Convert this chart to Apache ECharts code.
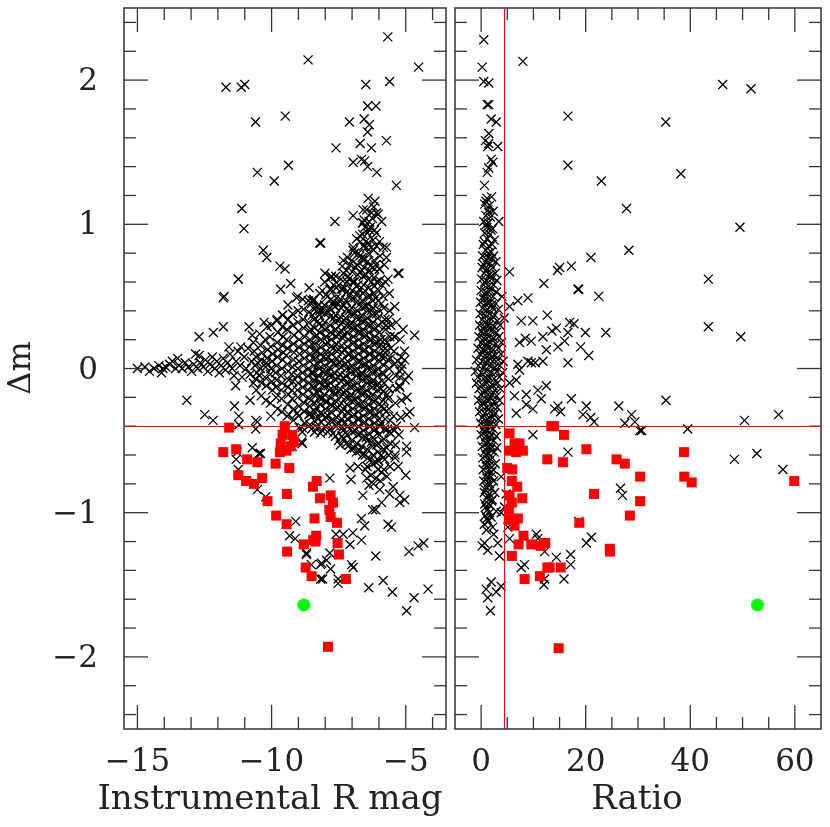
<!DOCTYPE html>
<html>
<head>
<meta charset="utf-8">
<script src="https://cdn.jsdelivr.net/npm/echarts@6/dist/echarts.min.js"></script>
<style>
html,body{margin:0;padding:0;background:#fff}
#chart{width:830px;height:827px}
</style>
</head>
<body>
<div id="chart"></div>
<script>
// tick labels
var magTicks = [-15, -10, -5];
var ratioTicks = [0, 20, 40, 60];
var dmTicks = [-2, -1, 0, 1, 2];
var magRange = [-15.5, -3.5];
var ratioRange = [-5, 65];
var dmRange = [-2.5, 2.5];
var dmCut = -0.4;
var ratioCut = 4.5;

// left panel: instrumental R mag vs delta m
var magCross = [
  [-5.67,2.30],[-8.64,2.14],[-4.52,2.09],[-5.60,1.99],[-6.49,1.97],[-11.70,1.95],[-11.13,1.95],[-11.00,1.97],[-6.42,1.82],[-6.11,1.82],
  [-10.60,1.71],[-9.49,1.75],[-7.10,1.71],[-6.55,1.73],[-6.36,1.69],[-6.42,1.64],[-6.70,1.56],[-6.28,1.53],[-7.60,1.53],[-5.72,1.58],
  [-9.37,1.41],[-6.96,1.43],[-6.65,1.45],[-6.53,1.44],[-6.42,1.40],[-6.08,1.36],[-10.53,1.36],[-9.90,1.30],[-5.35,1.27],
  [-6.40,1.18],[-6.15,1.16],[-6.46,1.10],[-6.96,1.06],[-6.09,1.08],[-5.90,1.02],[-6.55,1.03],[-7.64,1.02],[-6.71,0.92],[-8.20,0.87],
  [-5.72,0.84],[-11.11,1.11],[-11.03,0.97],[-10.31,0.82],[-10.18,0.77],[-9.69,0.71],[-9.50,0.69],[-9.29,0.59],[-11.24,0.62],[-11.80,0.49],
  [-5.25,0.66],[-7.33,0.75],[-8.17,0.87],
  [-6.59,1.10],[-6.03,1.07],[-6.59,1.01],[-6.34,0.96],[-6.09,0.94],[-6.96,0.82],[-6.46,0.84],[-5.84,0.84],[-6.59,0.75],[-5.72,0.77],
  [-8.01,0.66],[-7.77,0.64],[-7.15,0.64],[-5.29,0.66],[-5.97,0.69],[-7.77,0.55],[-7.33,0.55],[-6.84,0.57],[-5.66,0.62],[-8.45,0.47],
  [-8.20,0.40],[-7.71,0.44],[-5.41,0.43],[-5.10,0.27],[-4.67,0.23],[-5.43,0.22],[-5.16,0.00],[-5.66,0.34],[-5.84,0.15],[-5.78,0.11],
  [-15.00,0.00],[-14.72,0.01],[-14.55,-0.02],[-14.38,0.00],[-14.20,0.02],[-14.05,0.00],[-13.94,0.01],[-13.80,0.03],[-13.70,0.05],[-13.58,0.00],
  [-13.45,0.02],[-13.33,0.00],[-13.22,0.04],[-13.10,0.01],[-12.98,-0.02],[-12.90,0.03],[-12.83,0.10],[-12.75,0.00],[-12.66,0.04],[-12.55,0.01],
  [-12.46,0.06],[-12.38,-0.02],[-12.30,0.03],[-12.21,0.08],[-12.12,0.00],[-12.04,0.05],[-11.95,-0.03],[-11.88,0.02],[-11.80,0.07],[-11.72,-0.01],
  [-11.64,0.04],[-11.55,0.10],[-11.47,0.00],[-11.40,-0.05],[-11.32,0.05],[-11.25,0.12],[-11.18,0.02],[-11.10,-0.06],[-11.02,0.08],[-10.95,0.00],
  [-10.88,0.14],[-10.80,-0.04],[-10.74,0.05],[-10.68,-0.10],[-13.16,-0.22],[-12.49,-0.32],[-12.18,-0.36],[-12.70,0.22],[-12.17,0.25],[-11.80,0.29],
  [-11.77,0.50],[-11.24,0.62],[-12.70,0.09],[-11.59,0.15],[-11.34,-0.12],[-11.38,-0.26],[-11.15,0.15],[-10.84,0.29],[-10.72,0.23],[-10.28,0.32],
  [-9.79,0.34],[-9.60,0.37],[-9.66,0.55],[-9.07,0.49],[-8.49,0.47],[-8.30,0.40],[-10.80,-0.22],[-10.59,-0.36],[-10.59,-0.42],[-11.22,-0.33],
  [-10.47,-0.59],[-10.72,-0.55],[-8.86,-0.52],[-8.86,-0.44],[-8.61,-0.32],[-9.05,-0.31],[-9.35,-0.32],[-10.03,-0.33],[-11.28,-0.58],[-10.41,-0.59],
  [-11.32,-0.63],[-11.24,-0.70],[-10.53,-0.84],[-10.22,-0.89],[-9.10,-1.06],[-9.33,-1.16],[-9.12,-1.18],[-8.70,-1.29],[-8.17,-1.36],[-8.17,-1.46],
  [-8.52,-1.36],[-8.86,-0.41],[-9.23,-0.54],[-8.55,-0.31],[-10.53,-0.37],[-11.22,-0.39],[-13.50,0.07],[-14.10,-0.03],
  [-4.97,-0.54],[-4.97,-0.58],[-4.67,-0.41],[-5.22,-0.13],[-5.22,-0.06],[-5.00,-0.74],[-5.28,-0.68],[-5.40,-0.60],[-5.22,-0.93],[-5.04,-0.91],
  [-5.22,-0.88],[-5.47,-0.82],[-5.60,-0.87],[-5.66,-1.08],[-5.53,-1.10],[-6.12,-0.98],[-5.90,-0.93],[-4.88,-1.27],[-4.54,-1.23],[-4.33,-1.21],
  [-4.97,-1.68],[-4.69,-1.59],[-4.17,-1.53],[-5.50,-1.55],[-5.84,-1.47],[-6.38,-1.52],[-6.12,-1.30],[-7.08,-0.69],[-6.78,-0.68],[-7.04,-0.77],
  [-6.60,-0.88],[-6.23,-0.98],[-6.65,-1.04],[-6.53,-1.09],[-6.97,-1.14],[-7.33,-1.15],[-7.60,-1.15],[-6.65,-1.19],[-7.08,-1.22],[-7.83,-1.28],
  [-7.95,-1.33],[-8.14,-1.35],[-7.02,-1.36],[-6.96,-1.38],[-7.52,-1.46],[-7.52,-1.49],[-8.10,-1.46],[-7.80,-1.39],[-8.70,-1.28],[-6.37,-0.81],
  [-5.97,-0.84],[-7.83,-0.76],[-8.57,-0.31],[-7.89,-0.38],[-7.33,-0.43],[-8.88,-0.51],[-6.50,-0.70],[-6.30,-0.74],[-6.10,-0.76],[-5.90,-0.72],
  [-5.70,-0.75],[-6.20,-0.80],[-5.95,-0.78],[-6.45,-0.76],[-5.85,-0.62],[-5.55,-0.45],[-5.35,-0.40],[-4.85,-0.30],[-4.95,-0.20],[-4.90,-0.05],
  [-5.05,0.12],[-5.30,0.05],
  [-10.62,0.02],[-10.58,0.08],[-10.55,-0.03],[-10.65,0.12],[-10.60,-0.07],[-10.52,0.04],[-10.68,0.18],[-10.57,-0.15],
  [-10.42,0.00],[-10.38,0.06],[-10.45,-0.05],[-10.35,0.11],[-10.41,0.16],[-10.37,-0.10],[-10.44,0.24],[-10.39,-0.19],
  [-10.22,0.01],[-10.18,0.07],[-10.25,-0.06],[-10.15,0.13],[-10.20,-0.12],[-10.24,0.20],[-10.17,0.29],[-10.21,-0.22],[-10.19,0.04],
  [-10.02,0.00],[-9.98,0.05],[-10.05,-0.04],[-9.96,0.10],[-10.03,0.15],[-9.99,-0.09],[-10.06,0.22],[-9.97,-0.15],[-10.01,0.30],[-10.04,-0.24],
  [-9.82,0.02],[-9.78,0.08],[-9.85,-0.03],[-9.76,0.13],[-9.81,-0.08],[-9.79,0.18],[-9.84,-0.13],[-9.77,0.25],[-9.83,-0.20],[-9.80,0.33],[-9.78,-0.28],
  [-9.62,0.00],[-9.58,0.06],[-9.65,-0.05],[-9.56,0.11],[-9.61,-0.10],[-9.59,0.16],[-9.64,-0.15],[-9.57,0.22],[-9.63,-0.21],[-9.60,0.29],[-9.58,0.37],[-9.62,-0.30],
  [-9.42,0.03],[-9.38,-0.02],[-9.45,0.09],[-9.36,-0.08],[-9.41,0.14],[-9.39,-0.13],[-9.44,0.20],[-9.37,-0.18],[-9.43,0.27],[-9.40,-0.25],[-9.38,0.34],[-9.42,-0.33],[-9.39,0.44],
  [-9.22,0.01],[-9.18,0.06],[-9.25,-0.04],[-9.16,0.11],[-9.21,-0.09],[-9.19,0.17],[-9.24,-0.15],[-9.17,0.23],[-9.23,-0.21],[-9.20,0.30],[-9.18,-0.28],[-9.22,0.38],[-9.19,-0.36],
  [-9.02,0.00],[-8.98,0.05],[-9.05,-0.05],[-8.96,0.10],[-9.01,-0.10],[-8.99,0.15],[-9.04,-0.15],[-8.97,0.20],[-9.03,-0.20],[-9.00,0.26],[-8.98,-0.26],[-9.02,0.32],[-8.99,-0.33],[-9.01,0.40],[-8.97,-0.41],[-9.03,0.50],
  [-8.82,0.02],[-8.78,0.07],[-8.85,-0.03],[-8.76,0.12],[-8.81,-0.08],[-8.79,0.17],[-8.84,-0.13],[-8.77,0.22],[-8.83,-0.18],[-8.80,0.28],[-8.78,-0.24],[-8.82,0.34],[-8.79,-0.30],[-8.81,0.41],[-8.77,-0.38],[-8.84,0.48],
  [-8.62,0.00],[-8.58,0.05],[-8.65,-0.05],[-8.56,0.10],[-8.61,-0.10],[-8.59,0.15],[-8.64,-0.15],[-8.57,0.20],[-8.63,-0.20],[-8.60,0.26],[-8.58,-0.26],[-8.62,0.32],[-8.59,-0.32],[-8.61,0.39],[-8.57,-0.39],[-8.63,0.47],[-8.60,0.56],
  [-8.42,0.02],[-8.38,0.07],[-8.45,-0.03],[-8.36,0.12],[-8.41,-0.08],[-8.39,0.17],[-8.44,-0.13],[-8.37,0.22],[-8.43,-0.18],[-8.40,0.28],[-8.38,-0.24],[-8.42,0.34],[-8.39,-0.30],[-8.41,0.41],[-8.37,-0.37],[-8.43,0.48],[-8.40,-0.44],
  [-8.22,0.00],[-8.18,0.05],[-8.25,-0.05],[-8.16,0.10],[-8.21,-0.10],[-8.19,0.15],[-8.24,-0.15],[-8.17,0.20],[-8.23,-0.20],[-8.20,0.25],[-8.18,-0.25],[-8.22,0.31],[-8.19,-0.31],[-8.21,0.37],[-8.17,-0.37],[-8.23,0.44],[-8.20,0.52],[-8.18,-0.45],
  [-8.02,0.02],[-7.98,0.07],[-8.05,-0.03],[-7.96,0.12],[-8.01,-0.08],[-7.99,0.17],[-8.04,-0.13],[-7.97,0.22],[-8.03,-0.18],[-8.00,0.27],[-7.98,-0.23],[-8.02,0.32],[-7.99,-0.28],[-8.01,0.38],[-7.97,-0.34],[-8.03,0.44],[-8.00,-0.40],[-7.98,0.51],[-8.02,0.60],
  [-7.82,0.00],[-7.78,0.05],[-7.85,-0.05],[-7.76,0.10],[-7.81,-0.10],[-7.79,0.15],[-7.84,-0.15],[-7.77,0.20],[-7.83,-0.20],[-7.80,0.25],[-7.78,-0.25],[-7.82,0.30],[-7.79,-0.30],[-7.81,0.36],[-7.77,-0.36],[-7.83,0.42],[-7.80,-0.42],[-7.78,0.48],[-7.82,0.55],[-7.79,0.63],
  [-7.62,0.02],[-7.58,0.07],[-7.65,-0.03],[-7.56,0.12],[-7.61,-0.08],[-7.59,0.17],[-7.64,-0.13],[-7.57,0.22],[-7.63,-0.18],[-7.60,0.27],[-7.58,-0.23],[-7.62,0.32],[-7.59,-0.28],[-7.61,0.37],[-7.57,-0.34],[-7.63,0.43],[-7.60,-0.40],[-7.58,0.49],[-7.62,-0.47],[-7.59,0.56],[-7.61,0.64],
  [-7.42,0.01],[-7.37,0.06],[-7.44,-0.04],[-7.36,0.11],[-7.41,-0.09],[-7.39,0.16],[-7.45,-0.14],[-7.35,0.21],[-7.43,-0.19],[-7.38,0.26],[-7.40,-0.24],[-7.42,0.31],[-7.37,-0.30],[-7.44,0.36],[-7.39,-0.35],[-7.41,0.42],[-7.36,-0.41],[-7.43,0.48],[-7.38,-0.47],[-7.40,0.55],[-7.42,0.62],[-7.37,0.71],[-7.44,-0.53],
  [-7.21,0.00],[-7.17,0.05],[-7.24,-0.05],[-7.16,0.10],[-7.22,-0.10],[-7.18,0.15],[-7.25,-0.15],[-7.15,0.20],[-7.23,-0.20],[-7.19,0.25],[-7.20,-0.25],[-7.22,0.30],[-7.17,-0.30],[-7.24,0.35],[-7.18,-0.35],[-7.21,0.41],[-7.16,-0.40],[-7.23,0.47],[-7.19,-0.46],[-7.20,0.53],[-7.22,-0.52],[-7.18,0.60],[-7.21,0.68],[-7.17,0.77],
  [-7.02,0.02],[-6.97,0.07],[-7.04,-0.03],[-6.96,0.12],[-7.01,-0.08],[-6.99,0.17],[-7.05,-0.13],[-6.95,0.22],[-7.03,-0.18],[-6.98,0.27],[-7.00,-0.23],[-7.02,0.32],[-6.97,-0.28],[-7.04,0.37],[-6.99,-0.33],[-7.01,0.42],[-6.96,-0.38],[-7.03,0.48],[-6.98,-0.44],[-7.00,0.54],[-7.02,-0.50],[-6.97,0.60],[-7.04,-0.56],[-6.99,0.67],[-7.01,0.75],[-6.96,0.84],
  [-6.82,0.00],[-6.77,0.05],[-6.84,-0.05],[-6.76,0.10],[-6.81,-0.10],[-6.79,0.15],[-6.85,-0.15],[-6.75,0.20],[-6.83,-0.20],[-6.78,0.25],[-6.80,-0.25],[-6.82,0.30],[-6.77,-0.30],[-6.84,0.35],[-6.79,-0.35],[-6.81,0.40],[-6.76,-0.40],[-6.83,0.46],[-6.78,-0.46],[-6.80,0.52],[-6.82,-0.52],[-6.77,0.58],[-6.84,-0.58],[-6.79,0.65],[-6.81,0.72],[-6.76,0.80],[-6.83,0.90],
  [-6.62,0.02],[-6.57,0.07],[-6.64,-0.03],[-6.56,0.12],[-6.61,-0.08],[-6.59,0.17],[-6.65,-0.13],[-6.55,0.22],[-6.63,-0.18],[-6.58,0.27],[-6.60,-0.23],[-6.62,0.32],[-6.57,-0.28],[-6.64,0.37],[-6.59,-0.33],[-6.61,0.42],[-6.56,-0.38],[-6.63,0.47],[-6.58,-0.43],[-6.60,0.52],[-6.62,-0.48],[-6.57,0.58],[-6.64,-0.54],[-6.59,0.64],[-6.61,-0.60],[-6.56,0.70],[-6.63,0.77],[-6.58,0.85],[-6.60,0.93],[-6.62,1.01],
  [-6.42,0.00],[-6.37,0.05],[-6.44,-0.05],[-6.36,0.10],[-6.41,-0.10],[-6.39,0.15],[-6.45,-0.15],[-6.35,0.20],[-6.43,-0.20],[-6.38,0.25],[-6.40,-0.25],[-6.42,0.30],[-6.37,-0.30],[-6.44,0.35],[-6.39,-0.35],[-6.41,0.40],[-6.36,-0.40],[-6.43,0.45],[-6.38,-0.45],[-6.40,0.50],[-6.42,-0.50],[-6.37,0.56],[-6.44,-0.56],[-6.39,0.62],[-6.41,-0.62],[-6.36,0.68],[-6.43,0.74],[-6.38,0.80],[-6.40,0.87],[-6.42,0.94],[-6.37,1.02],[-6.44,-0.68],
  [-6.22,0.02],[-6.17,0.07],[-6.24,-0.03],[-6.16,0.12],[-6.21,-0.08],[-6.19,0.17],[-6.25,-0.13],[-6.15,0.22],[-6.23,-0.18],[-6.18,0.27],[-6.20,-0.23],[-6.22,0.32],[-6.17,-0.28],[-6.24,0.37],[-6.19,-0.33],[-6.21,0.42],[-6.16,-0.38],[-6.23,0.47],[-6.18,-0.43],[-6.20,0.52],[-6.22,-0.48],[-6.17,0.57],[-6.24,-0.54],[-6.19,0.63],[-6.21,-0.60],[-6.16,0.69],[-6.23,-0.66],[-6.18,0.75],[-6.20,0.82],[-6.22,0.89],[-6.17,0.96],[-6.24,1.04],[-6.19,1.12],
  [-6.02,0.00],[-5.97,0.05],[-6.04,-0.05],[-5.96,0.10],[-6.01,-0.10],[-5.99,0.15],[-6.05,-0.15],[-5.95,0.20],[-6.03,-0.20],[-5.98,0.25],[-6.00,-0.25],[-6.02,0.30],[-5.97,-0.30],[-6.04,0.35],[-5.99,-0.35],[-6.01,0.41],[-5.96,-0.40],[-6.03,0.47],[-5.98,-0.46],[-6.00,0.54],[-6.02,-0.52],[-5.97,0.61],[-6.04,-0.58],[-5.99,0.69],[-6.01,-0.64],[-5.96,0.78],[-6.03,-0.70],[-5.98,0.88],
  [-5.82,0.02],[-5.77,0.08],[-5.84,-0.04],[-5.76,0.14],[-5.81,-0.10],[-5.79,0.20],[-5.85,-0.16],[-5.75,0.27],[-5.83,-0.22],[-5.78,0.34],[-5.80,-0.28],[-5.82,0.42],[-5.77,-0.35],[-5.84,0.50],[-5.79,-0.42],[-5.81,-0.49],[-5.76,0.60],[-5.83,-0.56],[-5.78,-0.63],[-5.80,0.72],[-5.82,-0.70],
  [-5.62,0.00],[-5.57,0.07],[-5.64,-0.07],[-5.56,0.14],[-5.61,-0.14],[-5.59,0.22],[-5.65,-0.21],[-5.55,0.30],[-5.63,-0.28],[-5.58,-0.36],[-5.60,0.40],[-5.62,-0.44],[-5.57,-0.52],[-5.64,-0.60],[-5.59,-0.68],[-5.61,0.52],
  [-5.42,0.03],[-5.37,-0.05],[-5.44,0.12],[-5.36,-0.14],[-5.41,0.22],[-5.39,-0.24],[-5.45,-0.33],[-5.35,0.32],[-5.43,-0.43],[-5.38,-0.53],[-5.40,-0.62],
  [-5.22,-0.02],[-5.17,0.08],[-5.24,-0.12],[-5.16,-0.22],[-5.21,0.20],[-5.19,-0.34],[-5.25,-0.46],[-5.15,0.03],
  [-5.02,-0.08],[-4.97,-0.20],[-5.04,0.06],[-4.96,-0.32],
  [-8.51,-0.42],[-8.48,-0.33],[-8.53,-0.22],[-8.49,-0.12],[-8.52,-0.03],[-8.47,0.07],[-8.50,0.17],[-8.53,0.27],[-8.48,0.37],[-8.51,0.45],
  [-8.31,-0.41],[-8.28,-0.34],[-8.33,-0.27],[-8.29,-0.17],[-8.32,-0.07],[-8.27,0.03],[-8.30,0.12],[-8.33,0.23],[-8.28,0.33],[-8.31,0.43],
  [-8.11,-0.43],[-8.08,-0.32],[-8.13,-0.21],[-8.09,-0.11],[-8.12,-0.02],[-8.07,0.08],[-8.10,0.19],[-8.13,0.29],[-8.08,0.41],[-8.11,0.54],
  [-7.91,-0.44],[-7.88,-0.33],[-7.93,-0.23],[-7.89,-0.12],[-7.92,-0.03],[-7.87,0.08],[-7.90,0.18],[-7.93,0.28],[-7.88,0.39],[-7.91,0.50],
  [-7.71,-0.45],[-7.68,-0.36],[-7.73,-0.26],[-7.69,-0.16],[-7.72,-0.05],[-7.67,0.04],[-7.70,0.14],[-7.73,0.24],[-7.68,0.35],[-7.71,0.46],[-7.69,0.58],
  [-7.51,-0.50],[-7.48,-0.38],[-7.53,-0.27],[-7.49,-0.16],[-7.52,-0.06],[-7.47,0.04],[-7.50,0.13],[-7.53,0.24],[-7.48,0.34],[-7.51,0.45],[-7.49,0.58],
  [-7.31,-0.49],[-7.28,-0.38],[-7.33,-0.28],[-7.29,-0.17],[-7.32,-0.07],[-7.27,0.03],[-7.30,0.13],[-7.33,0.23],[-7.28,0.33],[-7.31,0.44],[-7.29,0.56],[-7.32,0.66],
  [-7.11,-0.53],[-7.08,-0.42],[-7.13,-0.31],[-7.09,-0.20],[-7.12,-0.10],[-7.07,0.00],[-7.10,0.10],[-7.13,0.20],[-7.08,0.30],[-7.11,0.40],[-7.09,0.51],[-7.12,0.62],[-7.08,0.72],
  [-6.91,-0.55],[-6.88,-0.43],[-6.93,-0.32],[-6.89,-0.22],[-6.92,-0.12],[-6.87,-0.02],[-6.90,0.08],[-6.93,0.18],[-6.88,0.28],[-6.91,0.38],[-6.89,0.49],[-6.92,0.60],[-6.88,0.70],[-6.91,0.80],
  [-6.71,-0.57],[-6.68,-0.45],[-6.73,-0.35],[-6.69,-0.25],[-6.72,-0.15],[-6.67,-0.05],[-6.70,0.05],[-6.73,0.15],[-6.68,0.25],[-6.71,0.35],[-6.69,0.45],[-6.72,0.55],[-6.68,0.67],[-6.71,0.78],[-6.69,0.88],
  [-6.51,-0.60],[-6.48,-0.48],[-6.53,-0.37],[-6.49,-0.27],[-6.52,-0.17],[-6.47,-0.07],[-6.50,0.03],[-6.53,0.13],[-6.48,0.23],[-6.51,0.33],[-6.49,0.43],[-6.52,0.54],[-6.48,0.65],[-6.51,0.76],[-6.49,0.88],[-6.52,0.98],
  [-6.31,-0.63],[-6.28,-0.51],[-6.33,-0.40],[-6.29,-0.30],[-6.32,-0.20],[-6.27,-0.10],[-6.30,0.00],[-6.33,0.10],[-6.28,0.20],[-6.31,0.30],[-6.29,0.40],[-6.32,0.50],[-6.28,0.60],[-6.31,0.71],[-6.29,0.84],[-6.32,0.98],[-6.28,1.08],
  [-6.11,-0.65],[-6.08,-0.53],[-6.13,-0.42],[-6.09,-0.32],[-6.12,-0.22],[-6.07,-0.12],[-6.10,-0.02],[-6.13,0.08],[-6.08,0.18],[-6.11,0.28],[-6.09,0.38],[-6.12,0.49],[-6.08,0.60],[-6.11,0.72],[-6.09,0.85],
  [-5.91,-0.60],[-5.88,-0.50],[-5.93,-0.38],[-5.89,-0.26],[-5.92,-0.14],[-5.87,-0.03],[-5.90,0.08],[-5.93,0.20],[-5.88,0.32],[-5.91,0.45],[-5.89,0.58],
  [-5.71,-0.55],[-5.68,-0.42],[-5.73,-0.30],[-5.69,-0.18],[-5.72,-0.06],[-5.67,0.06],[-5.70,0.18],[-5.73,0.30]
];
var magRed = [
  [-11.58,-0.41],[-11.80,-0.58],[-11.32,-0.56],[-10.91,-0.63],[-10.53,-0.65],[-9.85,-0.66],[-9.34,-0.69],[-11.24,-0.74],[-10.95,-0.78],[-10.66,-0.80],
  [-10.35,-0.76],[-10.15,-0.92],[-9.43,-0.87],[-9.83,-1.02],[-9.44,-1.08],[-9.42,-1.27],[-8.73,-1.38],[-8.51,-1.44],[-8.80,-1.22],[-8.36,-1.20],
  [-8.34,-1.16],[-8.40,-1.04],[-8.20,-0.90],[-8.46,-0.82],[-8.32,-0.78],[-9.51,-0.40],[-9.59,-0.46],[-9.66,-0.52],[-9.69,-0.58],[-9.45,-0.57],
  [-9.23,-0.46],[-9.17,-0.51],[-9.29,-0.54],[-7.80,-0.88],[-7.71,-0.93],[-7.85,-0.98],[-7.80,-1.03],[-7.56,-1.07],[-8.45,-1.19],[-7.54,-1.21],
  [-7.49,-1.29],[-7.23,-1.46],[-7.90,-1.93]
];
var magGreen = [[-8.80,-1.64]];

// right panel: ratio vs delta m
var ratioCross = [
  [1.1,1.18],[2.0,1.19],[0.7,1.14],[1.6,1.13],[1.3,1.10],[2.3,1.09],[0.9,1.06],[1.8,1.05],[0.5,1.02],[1.4,1.01],[3.37,1.02],[1.1,0.98],[2.2,0.97],
  [0.7,0.94],[1.7,0.93],[1.2,0.90],[2.5,0.89],[0.4,0.86],[1.5,0.85],[2.1,0.86],[0.9,0.82],[1.9,0.81],[0.3,0.78],[1.3,0.77],[2.4,0.78],
  [0.8,0.74],[1.7,0.73],[2.8,0.74],[0.2,0.70],[1.2,0.69],[2.2,0.70],[0.6,0.66],[1.6,0.65],[2.7,0.66],[5.43,0.67],[0.1,0.62],[1.0,0.61],[2.0,0.62],[3.0,0.61],
  [0.5,0.58],[1.4,0.57],[2.4,0.58],[0.0,0.54],[0.9,0.53],[1.8,0.54],[2.9,0.53],[0.4,0.50],[1.3,0.49],[2.3,0.50],[4.0,0.50],
  [-0.1,0.46],[0.8,0.45],[1.7,0.46],[2.8,0.45],[0.3,0.42],[1.2,0.41],[2.2,0.42],[3.3,0.41],[-0.2,0.38],[0.7,0.37],[1.6,0.38],[2.6,0.37],
  [0.2,0.34],[1.1,0.33],[2.0,0.34],[3.1,0.33],[4.4,0.35],[-0.3,0.30],[0.6,0.29],[1.5,0.30],[2.5,0.29],[3.6,0.30],[0.1,0.26],[1.0,0.25],[1.9,0.26],[2.9,0.25],
  [-0.4,0.22],[0.5,0.21],[1.4,0.22],[2.4,0.21],[3.4,0.22],[0.0,0.18],[0.9,0.17],[1.8,0.18],[2.8,0.17],[3.9,0.18],
  [-0.6,0.14],[0.4,0.13],[1.3,0.14],[2.3,0.13],[3.3,0.14],[-0.2,0.10],[0.8,0.09],[1.7,0.10],[2.7,0.09],[3.8,0.10],
  [-0.9,0.06],[0.2,0.05],[1.2,0.06],[2.2,0.05],[3.2,0.06],[4.2,0.05],[-0.5,0.02],[0.6,0.01],[1.6,0.02],[2.6,0.01],[3.6,0.02],
  [-1.1,-0.02],[0.0,-0.03],[1.0,-0.02],[2.0,-0.03],[3.0,-0.02],[4.1,-0.03],[-0.6,-0.06],[0.5,-0.07],[1.5,-0.06],[2.5,-0.07],[3.5,-0.06],
  [-0.9,-0.10],[0.1,-0.11],[1.1,-0.10],[2.1,-0.11],[3.1,-0.10],[-0.4,-0.14],[0.6,-0.15],[1.6,-0.14],[2.6,-0.15],[3.7,-0.14],
  [0.0,-0.18],[1.0,-0.19],[2.0,-0.18],[3.0,-0.19],[-0.5,-0.22],[0.5,-0.23],[1.5,-0.22],[2.5,-0.23],[3.5,-0.22],
  [0.1,-0.26],[1.1,-0.27],[2.1,-0.26],[3.1,-0.27],[-0.3,-0.30],[0.7,-0.31],[1.7,-0.30],[2.7,-0.31],[0.2,-0.34],[1.2,-0.35],[2.2,-0.34],[3.3,-0.35],
  [-0.1,-0.38],[0.8,-0.39],[1.8,-0.38],[2.8,-0.39],[0.4,-0.42],[1.3,-0.43],[2.3,-0.42],[0.0,-0.46],[0.9,-0.47],[1.9,-0.46],[2.9,-0.47],
  [0.5,-0.50],[1.4,-0.51],[2.4,-0.50],[0.2,-0.54],[1.1,-0.55],[2.0,-0.54],[3.0,-0.55],[0.6,-0.58],[1.5,-0.59],[2.5,-0.58],
  [0.3,-0.62],[1.2,-0.63],[2.1,-0.62],[0.8,-0.66],[1.7,-0.67],[2.7,-0.66],[0.4,-0.70],[1.3,-0.71],[2.3,-0.70],[0.9,-0.74],[1.9,-0.75],[3.83,-0.75],
  [0.5,-0.78],[1.4,-0.79],[2.4,-0.78],[1.0,-0.82],[2.0,-0.83],[0.6,-0.86],[1.6,-0.87],[2.6,-0.86],[4.79,-0.87],[1.1,-0.90],[2.1,-0.91],
  [0.7,-0.94],[1.7,-0.95],[4.47,-0.96],[1.2,-0.98],[2.88,-0.99],[0.8,-1.02],[1.9,-1.03],[3.83,-1.00],[1.4,-1.06],[2.22,-1.10],[5.10,-1.10],
  [0.9,1.16],[1.5,1.08],[1.0,1.00],[1.9,0.96],[0.6,0.88],[1.4,0.80],[2.0,0.76],[0.5,0.72],[1.0,0.68],[1.9,0.64],[0.7,0.60],[1.8,0.56],
  [1.1,0.52],[0.5,0.48],[2.0,0.44],[1.0,0.40],[2.3,0.36],[0.8,0.32],[1.7,0.28],[0.3,0.24],[2.1,0.20],[1.1,0.16],[0.6,0.12],[2.0,0.08],
  [1.0,0.04],[2.4,0.00],[0.3,-0.04],[1.3,-0.08],[2.3,-0.12],[0.8,-0.16],[1.8,-0.20],[0.3,-0.24],[1.4,-0.28],[2.4,-0.32],[0.9,-0.36],
  [1.6,-0.40],[0.6,-0.44],[1.6,-0.48],[0.9,-0.52],[1.8,-0.56],[0.9,-0.60],[1.6,-0.64],[1.0,-0.68],[2.0,-0.72],[1.1,-0.76],[1.6,-0.80],
  [0.8,-0.84],[1.3,-0.88],[2.0,-0.92],[0.9,-0.96],[1.6,-1.00],[1.1,-1.04],[0.6,-1.08],
  [0.63,-1.21],[1.27,-1.26],[0.96,-1.53],[1.92,-1.48],[2.88,-1.55],[1.27,-1.59],[1.78,-1.68],[3.83,-1.51],[3.51,-1.30],[0.2,-1.23],[2.4,-1.15],[1.0,-1.12],
  [0.5,2.28],[0.19,2.09],[7.98,2.13],[0.5,1.99],[1.46,1.98],[1.15,1.83],[1.46,1.83],[1.92,1.73],[2.88,1.71],[1.46,1.63],[0.82,1.58],[1.46,1.56],
  [1.27,1.54],[3.18,1.54],[1.92,1.45],[2.22,1.43],[1.46,1.39],[1.15,1.36],[0.63,1.27],[16.6,1.75],[16.6,1.41],[23.0,1.30],[27.8,1.11],[28.25,0.82],
  [21.0,0.77],[17.26,0.71],[15.0,0.70],[14.6,0.68],[18.5,0.55],[46.2,1.97],[51.6,1.94],[35.3,1.71],[38.2,1.35],[49.5,0.98],[43.45,0.62],
  [43.45,0.29],[49.66,0.22],[35.34,-0.22],[50.36,-0.36],[56.88,-0.32],[39.5,-0.42],[30.7,-0.43],[48.44,-0.63],[52.73,-0.59],[57.72,-0.70],
  [12.0,0.59],[18.66,0.55],[22.5,0.50],[8.94,0.49],[7.02,0.47],[5.43,0.43],[12.66,0.37],[9.9,0.33],[7.67,0.33],[16.93,0.32],[17.76,0.31],
  [14.38,0.28],[13.54,0.26],[16.6,0.25],[19.94,0.25],[23.84,0.25],[11.81,0.22],[9.59,0.19],[8.44,0.21],[7.34,0.18],[15.97,0.19],[12.46,0.13],
  [14.69,0.15],[19.04,0.15],[20.58,0.09],[16.6,0.04],[8.94,0.05],[9.59,0.04],[10.35,0.04],[11.81,0.05],[7.02,0.03],[7.34,-0.01],[6.71,-0.08],
  [5.43,-0.10],[12.46,-0.12],[10.85,-0.15],[8.63,-0.18],[6.39,-0.19],[11.5,-0.21],[17.26,-0.21],[8.63,-0.25],[9.9,-0.28],[14.06,-0.28],
  [14.69,-0.26],[15.2,-0.30],[20.13,-0.26],[19.48,-0.32],[20.96,-0.34],[21.6,-0.37],[26.33,-0.26],[28.76,-0.32],[29.4,-0.37],[30.36,-0.43],
  [27.48,-0.38],[9.9,-0.46],[16.6,-0.58],[6.71,-0.31],[26.65,-0.83],[27.04,-0.88],[18.66,-1.06],[21.09,-1.17],[20.13,-1.21],[10.55,-1.15],
  [10.85,-1.18],[12.14,-1.27],[14.38,-1.31],[17.12,-1.29],[17.12,-1.36],[15.84,-1.46],[12.14,-1.46],[12.0,-1.50],[8.3,-1.36],[7.67,-1.38],
  [5.43,-1.18],[3.18,-1.21]
];
var ratioRed = [
  [13.42,-0.40],[13.92,-0.40],[15.84,-0.46],[20.13,-0.56],[12.66,-0.63],[15.65,-0.65],[25.89,-0.63],[27.48,-0.66],[30.41,-0.75],[30.41,-0.92],
  [28.44,-1.02],[21.59,-0.87],[18.79,-1.07],[24.66,-1.27],[24.60,-1.25],[5.43,-0.45],[6.39,-0.52],[7.34,-0.52],[5.43,-0.57],[6.71,-0.58],
  [7.98,-0.57],[4.99,-0.69],[5.94,-0.70],[5.87,-0.78],[6.90,-0.82],[7.86,-0.90],[5.43,-0.88],[5.87,-0.93],[5.29,-0.98],[5.29,-1.05],
  [7.02,-1.04],[6.39,-1.09],[8.11,-1.16],[7.15,-1.22],[9.59,-1.22],[11.37,-1.23],[12.27,-1.21],[5.87,-1.30],[12.66,-1.38],[13.10,-1.38],
  [15.21,-1.38],[11.24,-1.44],[8.30,-1.46],[14.82,-1.94],[38.79,-0.58],[38.85,-0.75],[40.27,-0.79],[59.88,-0.78]
];
var ratioGreen = [[52.85,-1.64]];

var FONT = '"DejaVu Serif", "Liberation Serif", serif';
var INK = '#333';

function fmt(v) { return v < 0 ? '\u2212' + (-v) : String(v); }

// frame ticks (inside, on all four sides) drawn through the axis scale
function tickSeries(gi, dir, majors, step, from, to, labels) {
  var data = [];
  var n = Math.round((to - from) / step);
  for (var i = 0; i <= n; i++) {
    var v = +(from + i * step).toFixed(3);
    var m = majors.indexOf(v) >= 0 ? 1 : 0;
    data.push(dir === 'x' ? [v, 0, m] : [0, v, m]);
  }
  return {
    type: 'custom', xAxisIndex: gi, yAxisIndex: gi, clip: false, silent: true, z: 5,
    data: data,
    renderItem: function (params, api) {
      var cs = params.coordSys;
      var major = api.value(2) === 1;
      var len = major ? 24 : 12;
      var st = { stroke: INK, lineWidth: 1.3 };
      var kids = [];
      if (dir === 'x') {
        var v = api.value(0);
        var x = api.coord([v, 0])[0];
        kids.push({ type: 'line', shape: { x1: x, y1: cs.y, x2: x, y2: cs.y + len }, style: st });
        kids.push({ type: 'line', shape: { x1: x, y1: cs.y + cs.height, x2: x, y2: cs.y + cs.height - len }, style: st });
        if (major && labels) kids.push({ type: 'text', style: { text: fmt(v), x: x, y: cs.y + cs.height + 34, align: 'center', verticalAlign: 'middle', font: '31px ' + FONT, fill: '#222' } });
      } else {
        var w = api.value(1);
        var y = api.coord([0, w])[1];
        kids.push({ type: 'line', shape: { x1: cs.x, y1: y, x2: cs.x + len, y2: y }, style: st });
        kids.push({ type: 'line', shape: { x1: cs.x + cs.width, y1: y, x2: cs.x + cs.width - len, y2: y }, style: st });
        if (major && labels) kids.push({ type: 'text', style: { text: fmt(w), x: cs.x - 26, y: y + 2, align: 'right', verticalAlign: 'middle', font: '31px ' + FONT, fill: '#222' } });
      }
      return { type: 'group', children: kids };
    }
  };
}

function hiddenAxis(gi, range) {
  return { type: 'value', gridIndex: gi, min: range[0], max: range[1], axisLine: { show: false }, axisTick: { show: false }, axisLabel: { show: false }, splitLine: { show: false } };
}

// red cut lines, kept above the frame ticks
function redLine(pairs) {
  return { silent: true, symbol: 'none', z: 20, label: { show: false }, emphasis: { disabled: true },
    lineStyle: { color: '#ff0000', width: 1, type: 'solid', opacity: 1 },
    data: pairs.map(function (p) { return [{ coord: p[0] }, { coord: p[1] }]; }) };
}

var cross = 'path://M0,0L10,10M10,0L0,10';
var crossStyle = { color: 'none', borderColor: '#000', borderWidth: 1.3, opacity: 1 };

var chart = echarts.init(document.getElementById('chart'), null, { renderer: 'canvas' });
chart.setOption({
  animation: false,
  backgroundColor: '#fff',
  grid: [
    { left: 124, top: 8, width: 322, height: 721, show: true, borderColor: INK, borderWidth: 1.5, backgroundColor: 'transparent' },
    { left: 455, top: 8, width: 366, height: 721, show: true, borderColor: INK, borderWidth: 1.5, backgroundColor: 'transparent' }
  ],
  xAxis: [hiddenAxis(0, magRange), hiddenAxis(1, ratioRange)],
  yAxis: [hiddenAxis(0, dmRange), hiddenAxis(1, dmRange)],
  graphic: [
    { type: 'text', x: 22, y: 368, rotation: Math.PI / 2, style: { text: '\u0394m', font: '32px ' + FONT, fill: '#222', align: 'center', verticalAlign: 'middle' } },
    { type: 'text', x: 270, y: 800, style: { text: 'Instrumental R mag', font: '34px ' + FONT, fill: '#222', align: 'center', verticalAlign: 'middle' } },
    { type: 'text', x: 637, y: 800, style: { text: 'Ratio', font: '34px ' + FONT, fill: '#222', align: 'center', verticalAlign: 'middle' } }
  ],
  series: [
    { type: 'scatter', xAxisIndex: 0, yAxisIndex: 0, data: magCross, symbol: cross, symbolSize: 9, itemStyle: crossStyle, silent: true, z: 2 },
    { type: 'scatter', xAxisIndex: 1, yAxisIndex: 1, data: ratioCross, symbol: cross, symbolSize: 9, itemStyle: crossStyle, silent: true, z: 2 },
    { type: 'scatter', xAxisIndex: 0, yAxisIndex: 0, data: magRed, symbol: 'rect', symbolSize: 10, itemStyle: { color: '#ff0000', opacity: 1 }, silent: true, z: 4 },
    { type: 'scatter', xAxisIndex: 1, yAxisIndex: 1, data: ratioRed, symbol: 'rect', symbolSize: 10, itemStyle: { color: '#ff0000', opacity: 1 }, silent: true, z: 4 },
    { type: 'scatter', xAxisIndex: 0, yAxisIndex: 0, data: magGreen, symbol: 'circle', symbolSize: 13, itemStyle: { color: '#00ff00', opacity: 1 }, silent: true, z: 4 },
    { type: 'scatter', xAxisIndex: 1, yAxisIndex: 1, data: ratioGreen, symbol: 'circle', symbolSize: 13, itemStyle: { color: '#00ff00', opacity: 1 }, silent: true, z: 4 },
    tickSeries(0, 'x', magTicks, 1, -15, -4, true),
    tickSeries(0, 'y', dmTicks, 0.2, -2.4, 2.4, true),
    tickSeries(1, 'x', ratioTicks, 5, 0, 60, true),
    tickSeries(1, 'y', dmTicks, 0.2, -2.4, 2.4, false),
    { type: 'scatter', xAxisIndex: 0, yAxisIndex: 0, data: [], silent: true, z: 20,
      markLine: redLine([[[magRange[0], dmCut], [magRange[1], dmCut]]]) },
    { type: 'scatter', xAxisIndex: 1, yAxisIndex: 1, data: [], silent: true, z: 20,
      markLine: redLine([[[ratioRange[0], dmCut], [ratioRange[1], dmCut]], [[ratioCut, dmRange[0]], [ratioCut, dmRange[1]]]]) }
  ]
});
</script>
</body>
</html>
